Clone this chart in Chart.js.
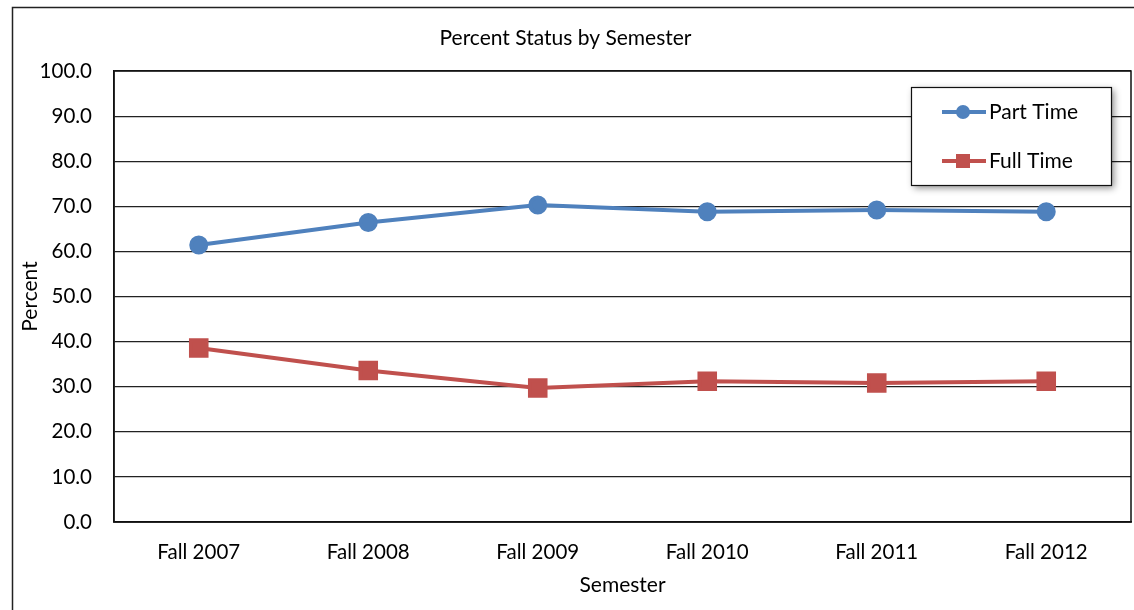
<!DOCTYPE html>
<html>
<head>
<meta charset="utf-8">
<title>Percent Status by Semester</title>
<script src="https://cdn.jsdelivr.net/npm/chart.js@4.4.0/dist/chart.umd.min.js"></script>
<style>
  html, body { margin: 0; padding: 0; background: #fff; }
  #wrap { width: 1134px; height: 610px; }
</style>
</head>
<body>
<div id="wrap"><canvas id="statusChart" width="1134" height="610"></canvas></div>
<script>
// Chart data
const semesters = ['Fall 2007', 'Fall 2008', 'Fall 2009', 'Fall 2010', 'Fall 2011', 'Fall 2012'];
const partTime = [61.4, 66.4, 70.3, 68.8, 69.2, 68.8];
const fullTime = [38.6, 33.6, 29.7, 31.2, 30.8, 31.2];
const yTicks = [0, 10, 20, 30, 40, 50, 60, 70, 80, 90, 100];

const FONT = 'Lato, "Open Sans", sans-serif';

// Outer chart border + plot area frame
const frame = {
  id: 'frame',
  beforeDraw(chart) {
    const c = chart.ctx;
    c.save();
    c.strokeStyle = '#222';
    c.lineWidth = 1.5;
    c.strokeRect(12.5, 7.5, 1200, 700);
    c.restore();
  },
  afterDatasetsDraw(chart) {
    const a = chart.chartArea;
    const c = chart.ctx;
    c.save();
    c.strokeStyle = '#111';
    c.lineWidth = 1.5;
    c.strokeRect(a.left, a.top, a.right - a.left, a.bottom - a.top);
    c.restore();
  }
};

// Excel-like legend box inside the plot area, with drop shadow
const boxLegend = {
  id: 'boxLegend',
  afterDraw(chart) {
    const c = chart.ctx;
    const a = chart.chartArea;
    const x = a.right - 220, y = a.top + 16, w = 200, h = 98;
    c.save();
    c.shadowColor = 'rgba(0,0,0,0.45)';
    c.shadowBlur = 7;
    c.shadowOffsetX = 3;
    c.shadowOffsetY = 3;
    c.fillStyle = '#fff';
    c.fillRect(x, y, w, h);
    c.restore();
    c.save();
    c.strokeStyle = '#111';
    c.lineWidth = 1.2;
    c.strokeRect(x + 0.5, y + 0.5, w, h);
    chart.data.datasets.forEach((ds, i) => {
      const cy = y + 25 + i * 49;
      c.strokeStyle = ds.borderColor;
      c.lineWidth = 4;
      c.beginPath();
      c.moveTo(x + 31, cy);
      c.lineTo(x + 75, cy);
      c.stroke();
      c.fillStyle = ds.backgroundColor;
      if (ds.pointStyle === 'rect') {
        c.fillRect(x + 45, cy - 7, 14, 14);
      } else {
        c.beginPath();
        c.arc(x + 52, cy, 7, 0, Math.PI * 2);
        c.fill();
      }
      c.fillStyle = '#000';
      c.font = '21px ' + FONT;
      c.textBaseline = 'middle';
      c.fillText(ds.label, x + 78, cy);
    });
    c.restore();
  }
};

new Chart(document.getElementById('statusChart'), {
  type: 'line',
  data: {
    labels: semesters,
    datasets: [
      {
        label: 'Part Time',
        data: partTime,
        borderColor: '#4F81BD',
        backgroundColor: '#4F81BD',
        borderWidth: 4,
        pointStyle: 'circle',
        pointRadius: 7.5,
        pointHoverRadius: 7.5,
        tension: 0
      },
      {
        label: 'Full Time',
        data: fullTime,
        borderColor: '#C0504D',
        backgroundColor: '#C0504D',
        borderWidth: 4,
        pointStyle: 'rect',
        pointRadius: 11,
        pointHoverRadius: 11,
        tension: 0
      }
    ]
  },
  options: {
    responsive: false,
    animation: false,
    devicePixelRatio: 1,
    layout: { autoPadding: false, padding: { left: 0, right: 3, top: 0, bottom: 0 } },
    plugins: {
      legend: { display: false },
      tooltip: { enabled: false },
      title: {
        display: true,
        text: 'Percent Status by Semester',
        color: '#000',
        font: { family: FONT, size: 21, weight: 'normal' },
        padding: { top: 26, bottom: 19.8 }
      }
    },
    scales: {
      x: {
        offset: true,
        grid: { display: false, drawTicks: false },
        border: { display: true, color: '#111', width: 1.5 },
        ticks: { color: '#000', padding: 18, font: { family: FONT, size: 20.5 } },
        title: {
          display: true,
          text: 'Semester',
          color: '#000',
          font: { family: FONT, size: 21 },
          padding: { top: 0, bottom: 12.4 }
        },
        afterFit(scale) {
          scale.height = 88;
          scale.paddingLeft = 0;
          scale.paddingRight = 0;
        }
      },
      y: {
        min: 0,
        max: 100,
        afterBuildTicks(scale) { scale.ticks = yTicks.map(v => ({ value: v })); },
        grid: { color: '#222', lineWidth: 1.2, drawTicks: false },
        border: { display: true, color: '#111', width: 1.5 },
        ticks: {
          color: '#000',
          padding: 22,
          font: { family: FONT, size: 20.5 },
          callback: v => v.toFixed(1)
        },
        title: {
          display: true,
          text: 'Percent',
          color: '#000',
          font: { family: FONT, size: 21 },
          padding: { top: 17.4 }
        },
        afterFit(scale) {
          scale.width = 114;
          scale.paddingTop = 0;
          scale.paddingBottom = 0;
        }
      }
    }
  },
  plugins: [frame, boxLegend]
});
</script>
</body>
</html>
